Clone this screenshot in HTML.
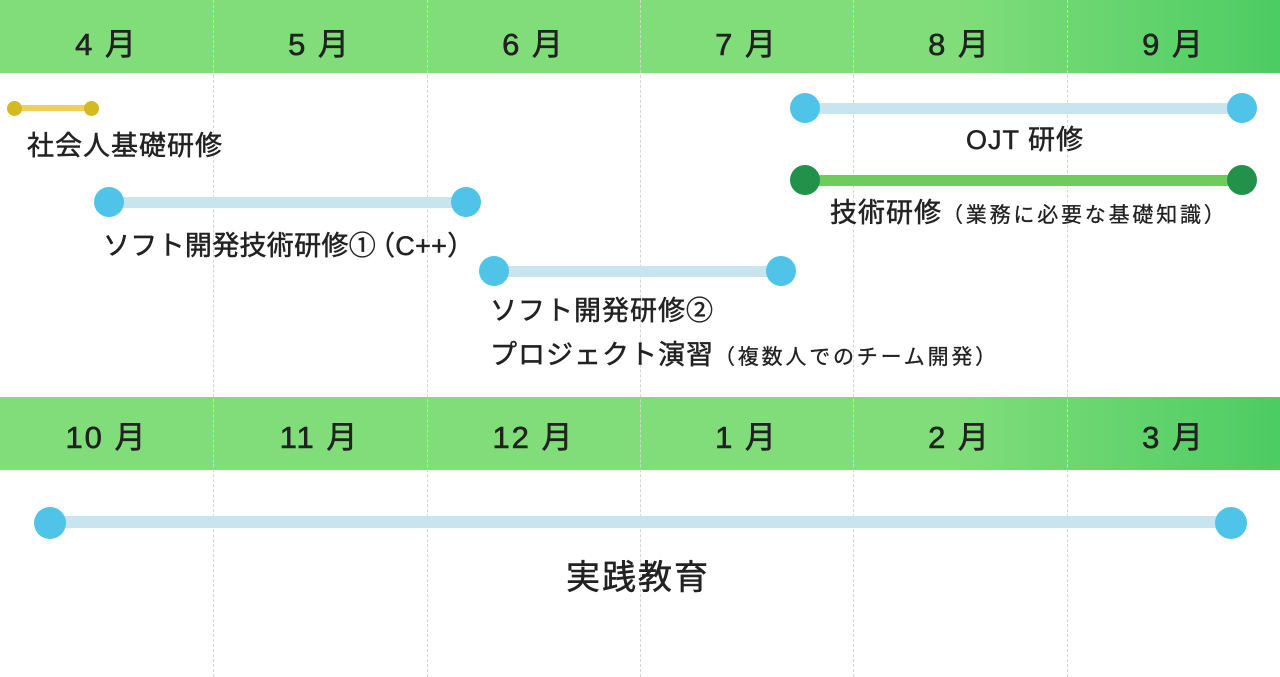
<!DOCTYPE html>
<html><head><meta charset="utf-8"><style>
body{margin:0;width:1280px;height:677px;position:relative;background:#fff;overflow:hidden;font-family:"Liberation Sans","Noto Sans CJK JP",sans-serif;color:#222}
.hdr{position:absolute;left:0;width:1280px;height:73px;background:linear-gradient(90deg,#80dd7a 0%,#80dd7a 75%,#4ccc62 100%)}
.m{position:absolute;width:213px;text-align:center;font-size:31px;font-weight:normal;-webkit-text-stroke:0.6px #222;line-height:30px;letter-spacing:2px}
.v{position:absolute;top:0;height:677px;border-left:1px dashed #d4d4d4;width:0}
.line{position:absolute}
.dot{position:absolute;border-radius:50%}
.t{position:absolute;font-size:27px;line-height:30px;font-weight:normal;-webkit-text-stroke:0.5px #222;white-space:nowrap;letter-spacing:1px}
.s{font-size:21px;letter-spacing:2.8px;-webkit-text-stroke:0.3px #222}
</style></head><body>
<div class="hdr" style="top:0"></div>
<div class="hdr" style="top:397px"></div>
<div class="v" style="left:213px"></div><div class="v" style="left:427px"></div><div class="v" style="left:640px"></div><div class="v" style="left:853px"></div><div class="v" style="left:1067px"></div>
<div class="m" style="left:0;top:30px">4 月</div><div class="m" style="left:213px;top:30px">5 月</div><div class="m" style="left:427px;top:30px">6 月</div><div class="m" style="left:640px;top:30px">7 月</div><div class="m" style="left:853px;top:30px">8 月</div><div class="m" style="left:1067px;top:30px">9 月</div>
<div class="m" style="left:0;top:423px">10 月</div><div class="m" style="left:213px;top:423px">11 月</div><div class="m" style="left:427px;top:423px">12 月</div><div class="m" style="left:640px;top:423px">1 月</div><div class="m" style="left:853px;top:423px">2 月</div><div class="m" style="left:1067px;top:423px">3 月</div>

<div class="line" style="left:14px;top:105px;width:78px;height:6px;background:#efcf5a"></div>
<div class="dot" style="left:7px;top:101px;width:15px;height:15px;background:#d4b920"></div>
<div class="dot" style="left:84px;top:101px;width:15px;height:15px;background:#d4b920"></div>
<div class="t" style="left:27px;top:131px">社会人基礎研修</div>

<div class="line" style="left:108px;top:197px;width:358px;height:11px;background:#c8e4ef"></div>
<div class="dot" style="left:94px;top:187px;width:30px;height:30px;background:#4fc3e8"></div>
<div class="dot" style="left:451px;top:187px;width:30px;height:30px;background:#4fc3e8"></div>
<div class="t" style="left:103px;top:231px;letter-spacing:0.3px">ソフト開発技術研修①<span style="margin-left:-8px">（C++）</span></div>

<div class="line" style="left:494px;top:266px;width:287px;height:11px;background:#c8e4ef"></div>
<div class="dot" style="left:479px;top:256px;width:30px;height:30px;background:#4fc3e8"></div>
<div class="dot" style="left:766px;top:256px;width:30px;height:30px;background:#4fc3e8"></div>
<div class="t" style="left:490px;top:296px">ソフト開発研修②</div>
<div class="t" style="left:490px;top:340px">プロジェクト演習<span class="s">（複数人でのチーム開発）</span></div>

<div class="line" style="left:804px;top:103px;width:437px;height:11px;background:#c8e4ef"></div>
<div class="dot" style="left:790px;top:93px;width:30px;height:30px;background:#4fc3e8"></div>
<div class="dot" style="left:1227px;top:93px;width:30px;height:30px;background:#4fc3e8"></div>
<div class="t" style="left:966px;top:125px">OJT 研修</div>

<div class="line" style="left:804px;top:175px;width:437px;height:11px;background:#6dcc5a"></div>
<div class="dot" style="left:790px;top:165px;width:30px;height:30px;background:#22924a"></div>
<div class="dot" style="left:1227px;top:165px;width:30px;height:30px;background:#22924a"></div>
<div class="t" style="left:830px;top:198px">技術研修<span class="s">（業務に必要な基礎知識）</span></div>

<div class="line" style="left:50px;top:516px;width:1181px;height:12px;background:#c8e4ef"></div>
<div class="dot" style="left:34px;top:507px;width:32px;height:32px;background:#4fc3e8"></div>
<div class="dot" style="left:1215px;top:507px;width:32px;height:32px;background:#4fc3e8"></div>
<div class="t" style="left:566px;top:560px;font-size:34px;line-height:36px;letter-spacing:2px">実践教育</div>
</body></html>
